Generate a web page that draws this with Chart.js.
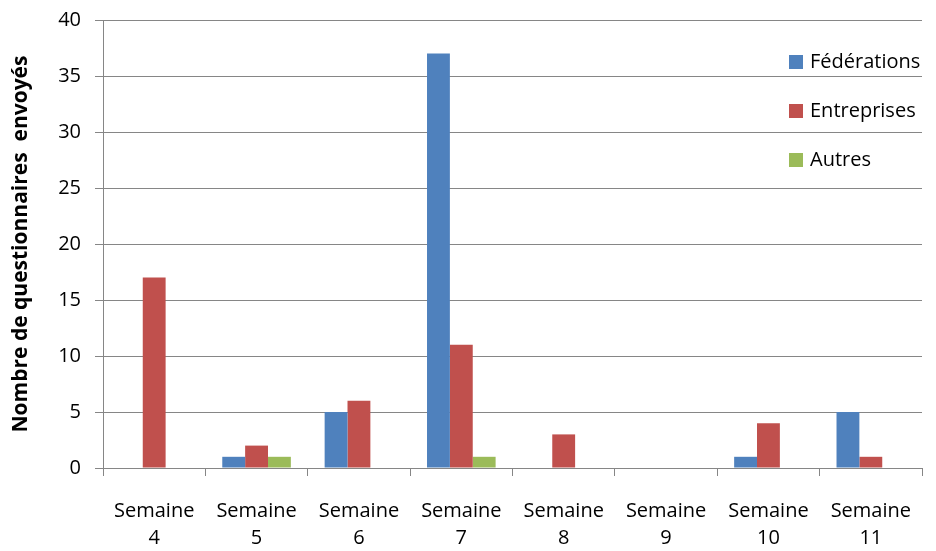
<!DOCTYPE html>
<html>
<head>
<meta charset="utf-8">
<script src="https://cdn.jsdelivr.net/npm/chart.js@4/dist/chart.umd.min.js"></script>
<style>
html,body{margin:0;padding:0;background:#fff;}
#wrap{width:936px;height:551px;position:relative;}
</style>
</head>
<body>
<div id="wrap"><canvas id="c" width="936" height="551"></canvas></div>
<script>
const categories = [['Semaine','4'],['Semaine','5'],['Semaine','6'],['Semaine','7'],['Semaine','8'],['Semaine','9'],['Semaine','10'],['Semaine','11']];
const federations = [0, 1, 5, 37, 0, 0, 1, 5];
const entreprises = [17, 2, 6, 11, 3, 0, 4, 1];
const autres = [0, 1, 0, 1, 0, 0, 0, 0];
const seriesNames = ['Fédérations', 'Entreprises', 'Autres'];
const yTitle = 'Nombre de questionnaires  envoyés';

const FONT = "'Open Sans', sans-serif";
const axisGray = '#868686';

const legendPlugin = {
  id: 'sideLegend',
  afterDraw(chart) {
    const ctx = chart.ctx;
    ctx.save();
    ctx.font = "20px " + FONT;
    ctx.textBaseline = 'middle';
    chart.data.datasets.forEach((ds, i) => {
      const y = 62 + i * 49;
      ctx.fillStyle = ds.backgroundColor;
      ctx.fillRect(789, y - 7, 14, 14);
      ctx.fillStyle = '#000';
      ctx.fillText(ds.label, 810, y);
    });
    ctx.restore();
  }
};

new Chart(document.getElementById('c'), {
  type: 'bar',
  data: {
    labels: categories,
    datasets: [
      {label: seriesNames[0], data: federations, backgroundColor: '#4F81BD'},
      {label: seriesNames[1], data: entreprises, backgroundColor: '#C0504D'},
      {label: seriesNames[2], data: autres, backgroundColor: '#9BBB59'}
    ]
  },
  options: {
    responsive: false,
    animation: false,
    devicePixelRatio: 1,
    categoryPercentage: 0.67,
    barPercentage: 1.0,
    layout: {padding: {left: 8, right: 14, top: 20, bottom: 0}},
    plugins: {legend: {display: false}, tooltip: {enabled: false}},
    scales: {
      x: {
        grid: {display: true, drawOnChartArea: false, drawTicks: true, tickLength: 8, color: axisGray, lineWidth: 1},
        border: {display: true, color: axisGray, width: 1},
        ticks: {color: '#000', font: {family: FONT, size: 20, lineHeight: 1.35}, padding: 22, maxRotation: 0, autoSkip: false},
        afterFit(scale) { scale.height = 83; }
      },
      y: {
        min: 0, max: 40,
        ticks: {stepSize: 5, color: '#000', font: {family: FONT, size: 20}, padding: 14},
        grid: {color: axisGray, lineWidth: 1, tickLength: 8},
        border: {display: true, color: axisGray, width: 1},
        title: {display: true, text: yTitle, color: '#000', font: {family: FONT, size: 21, weight: 'bold'}, padding: {top: 0, bottom: 2}},
        afterFit(scale) { scale.width = 95; scale.paddingTop = 0; scale.paddingBottom = 0; }
      }
    }
  },
  plugins: [legendPlugin]
});
</script>
</body>
</html>
